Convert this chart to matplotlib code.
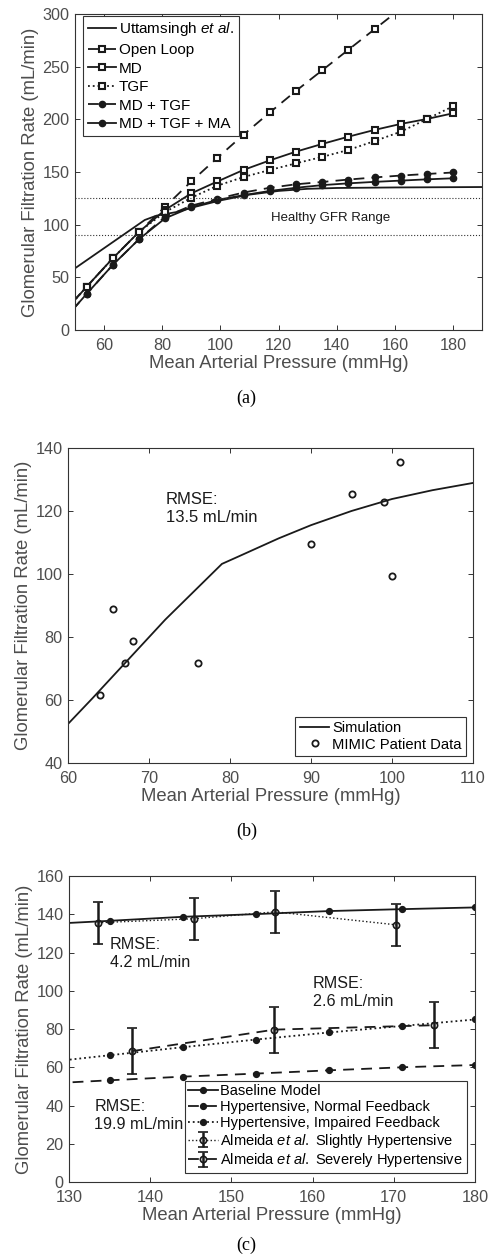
import numpy as np
import matplotlib
matplotlib.use("Agg")
import matplotlib.pyplot as plt

plt.rcParams['font.family'] = ['Liberation Sans', 'DejaVu Sans']
plt.rcParams['mathtext.fontset'] = 'custom'
plt.rcParams['mathtext.rm'] = 'Liberation Sans'
plt.rcParams['mathtext.it'] = 'Liberation Sans:italic'

# ---- (a) autoregulation model variants ----
map_a = [45, 54, 63, 72, 81, 90, 99, 108, 117, 126, 135, 144, 153, 162, 171, 180]
open_loop = [14, 41, 68, 93, 117, 141, 163.5, 185.5, 206.5, 227, 246.5, 266, 285.5, 305]
md = [13, 41, 68, 93, 114, 129.7, 141, 152, 161, 169.3, 176.6, 183.5, 189.9, 195.6, 200.3, 205.7]
tgf = [13, 41, 68, 93, 112, 125.5, 137, 145.2, 151.9, 158.2, 164.3, 170.9, 179.3, 188.2, 200.2, 212.4]
md_tgf = [6, 34.2, 61.7, 86.1, 107.5, 118, 124.5, 130.5, 135, 138.3, 140.5, 142.8, 144.8, 146.6, 148.1, 149.5]
md_tgf_ma = [6, 34.2, 61.7, 86.1, 106, 116.5, 123.5, 128, 132, 135, 137.5, 139.2, 140.6, 141.8, 143, 144]
utt_x = [50, 74, 78, 85, 90, 100, 110, 120, 130, 140, 160, 190]
utt_y = [58.5, 104.4, 108.5, 112, 116, 123, 128.5, 132, 134, 134.8, 135.3, 135.7]
healthy_low, healthy_high = 90, 125

# ---- (b) simulation vs MIMIC patients ----
sim_x = [60, 63, 72, 79, 81, 86, 90, 95, 100, 105, 110]
sim_y = [52.4, 60.5, 85.5, 103.2, 105.5, 111.3, 115.5, 120, 123.8, 126.6, 128.9]
mimic_x = [64, 65.5, 67, 68, 76, 90, 95, 99, 100, 101]
mimic_y = [61.5, 88.9, 71.8, 78.8, 71.8, 109.4, 125.3, 122.7, 99.2, 135.6]

# ---- (c) hypertension ----
map_c = [126, 135, 144, 153, 162, 171, 180]
baseline = [134.6, 136.6, 138.7, 140.1, 141.7, 142.7, 143.6]
hyp_normal = [51.2, 53.2, 55.1, 56.7, 58.4, 60.0, 61.2]
hyp_impaired = [62.1, 66.3, 70.5, 74.5, 78.2, 81.6, 85.0]
slight_x = [133.6, 145.4, 155.4, 170.3]
slight_y = [135.6, 137.7, 141.3, 134.5]
slight_err = [11.1, 11.0, 11.0, 11.1]
severe_x = [137.7, 155.3, 175.0]
severe_y = [68.4, 79.7, 82.0]
severe_err = [12.0, 12.0, 12.0]

TXT = '#4d4d4d'
AX = '#333333'
K = '#1a1a1a'


def style(ax, xlim, ylim, xt, yt, ylabel):
    ax.set_xlim(*xlim)
    ax.set_ylim(*ylim)
    ax.set_xticks(xt)
    ax.set_yticks(yt)
    ax.tick_params(direction='in', top=True, right=True, length=3.5, width=0.7,
                   colors=AX, labelcolor=TXT, labelsize=11.7)
    ax.tick_params(axis='x', pad=5.5)
    ax.tick_params(axis='y', pad=4)
    for s in ax.spines.values():
        s.set_color(AX)
        s.set_linewidth(0.8)
    ax.set_xlabel('Mean Arterial Pressure (mmHg)', fontsize=13.3, color=TXT, labelpad=2)
    ax.set_ylabel(ylabel, fontsize=13.3, color=TXT, labelpad=2.5)


fig = plt.figure(figsize=(4.93, 12.58), dpi=100)
ylab = 'Glomerular Filtration Rate (mL/min)'
sq = dict(marker='s', ms=4.5, mfc='white', mec=K, mew=1.5, color=K, lw=1.3)
ci = dict(marker='o', ms=4.5, mfc=K, mec=K, color=K, lw=1.3)

# (a)
ax = fig.add_axes([0.152, 0.7377, 0.826, 0.2512])
ax.plot(utt_x, utt_y, color=K, lw=1.3, label='Uttamsingh $\\mathit{et\\ al.}$')
ax.plot(map_a[:len(open_loop)], open_loop, ls=(0, (6, 4)), label='Open Loop', **sq)
ax.plot(map_a, md, ls='-', label='MD', **sq)
ax.plot(map_a, tgf, ls=':', label='TGF', **sq)
ax.plot(map_a, md_tgf, ls=(0, (6, 4)), label='MD + TGF', **ci)
ax.plot(map_a, md_tgf_ma, ls='-', label='MD + TGF + MA', **ci)
ax.axhline(healthy_high, color=AX, ls=':', lw=0.8)
ax.axhline(healthy_low, color=AX, ls=':', lw=0.8)
ax.text(138, 106, 'Healthy GFR Range', fontsize=9.5, color=K, ha='center', va='center')
style(ax, (50, 190), (0, 300), range(60, 181, 20), range(0, 301, 50), ylab)
leg = ax.legend(loc='upper left', bbox_to_anchor=(0.02, 0.994), borderaxespad=0,
                fontsize=11, labelspacing=0.3, handletextpad=0.2, borderpad=0.3,
                handlelength=1.85, fancybox=False, framealpha=1, edgecolor=AX)
leg.get_frame().set_linewidth(0.8)
fig.text(0.5, 0.6836, '(a)', family='Liberation Serif', fontsize=13, ha='center', va='center')

# (b)
ax = fig.add_axes([0.138, 0.3935, 0.8215, 0.2504])
ax.plot(sim_x, sim_y, color=K, lw=1.3, label='Simulation')
ax.plot(mimic_x, mimic_y, ls='none', marker='o', ms=4.5, mfc='none', mec=K, mew=1.3,
        label='MIMIC Patient Data')
ax.text(72.1, 126, 'RMSE:\n13.5 mL/min', fontsize=12, color=K, va='top', linespacing=1.25)
style(ax, (60, 110), (40, 140), range(60, 111, 10), range(40, 141, 20), ylab)
leg = ax.legend(loc='lower right', bbox_to_anchor=(0.983, 0.022), borderaxespad=0,
                fontsize=10.6, labelspacing=0.15, handletextpad=0.2, borderpad=0.3,
                fancybox=False, framealpha=1, edgecolor=AX)
leg.get_frame().set_linewidth(0.8)
fig.text(0.5, 0.339, '(b)', family='Liberation Serif', fontsize=13, ha='center', va='center')

# (c)
ax = fig.add_axes([0.140, 0.0604, 0.8235, 0.2432])
ci_c = dict(marker='o', ms=4.2, mfc=K, mec=K, color=K, lw=1.3)
ax.plot(map_c, baseline, ls='-', label='Baseline Model', **ci_c)
ax.plot(map_c, hyp_normal, ls=(0, (6, 4)), label='Hypertensive, Normal Feedback', **ci_c)
ax.plot(map_c, hyp_impaired, ls=':', label='Hypertensive, Impaired Feedback', **ci_c)
ax.errorbar(slight_x, slight_y, yerr=slight_err, fmt='o', ls=':', color=K, lw=1.0,
            ms=4.5, mfc='none', mec=K, mew=1.2, ecolor=K, elinewidth=1.8, capsize=3.5,
            capthick=1.8, label='Almeida $\\mathit{et\\ al.}$ Slightly Hypertensive')
ax.errorbar(severe_x, severe_y, yerr=severe_err, fmt='o', ls=(0, (6, 4)), color=K, lw=1.3,
            ms=4.5, mfc='none', mec=K, mew=1.2, ecolor=K, elinewidth=1.8, capsize=3.5,
            capthick=1.8, label='Almeida $\\mathit{et\\ al.}$ Severely Hypertensive')
ax.text(135.0, 128, 'RMSE:\n4.2 mL/min', fontsize=11.6, color=K, va='top', linespacing=1.25)
ax.text(160.0, 108, 'RMSE:\n2.6 mL/min', fontsize=11.6, color=K, va='top', linespacing=1.25)
ax.text(133.1, 43.5, 'RMSE:\n19.9 mL/min', fontsize=11.6, color=K, va='top', linespacing=1.25)
style(ax, (130, 180), (0, 160), range(130, 181, 10), range(0, 161, 20), ylab)
leg = ax.legend(loc='lower right', bbox_to_anchor=(0.980, 0.029), borderaxespad=0,
                fontsize=10.5, labelspacing=0.12, handletextpad=0.2, borderpad=0.25,
                fancybox=False, framealpha=1, edgecolor=AX, handlelength=2.0)
leg.get_frame().set_linewidth(0.8)
fig.text(0.5, 0.0103, '(c)', family='Liberation Serif', fontsize=13, ha='center', va='center')

fig.savefig('out.png', dpi=100)
